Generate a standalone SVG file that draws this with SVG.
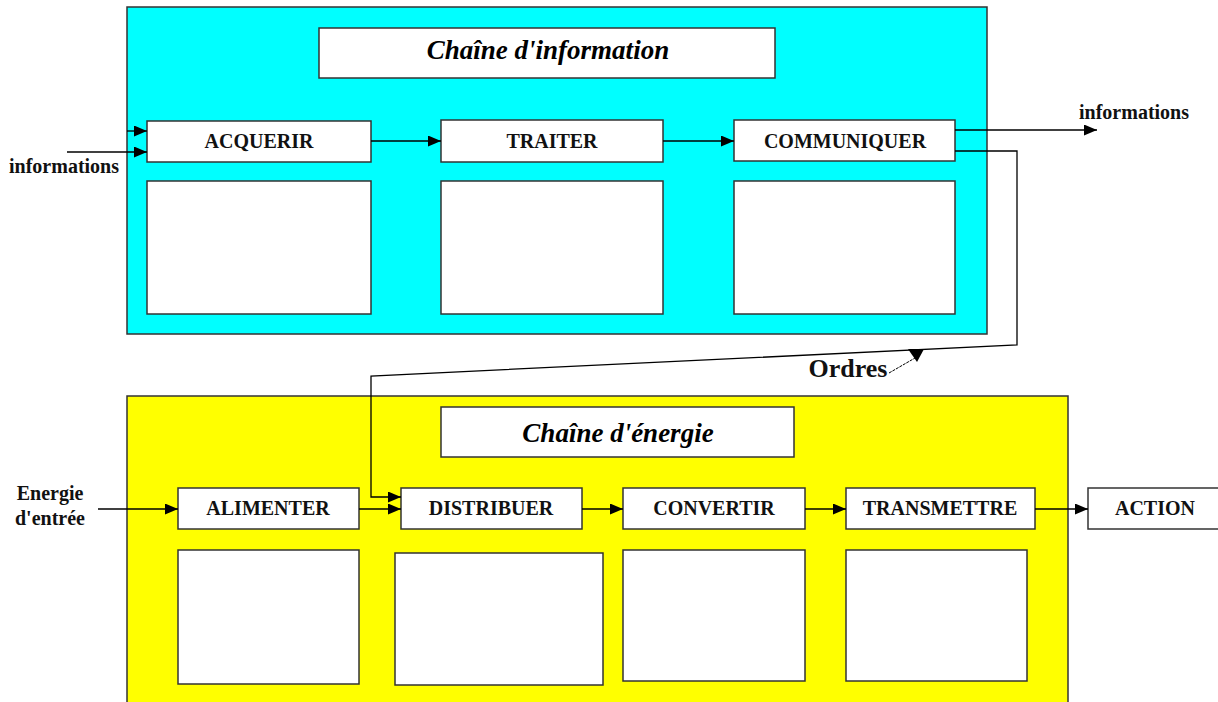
<svg xmlns="http://www.w3.org/2000/svg" width="1218" height="702" viewBox="0 0 1218 702">
<style>
.chain{stroke:#333;stroke-width:1.5}
.box{fill:#fff;stroke:#333;stroke-width:1.5}
.lbl{font-family:"Liberation Serif","Times New Roman",serif;font-weight:bold;font-size:20px;fill:#111;text-anchor:middle}
.ttl{font-family:"Liberation Serif","Times New Roman",serif;font-weight:bold;font-style:italic;font-size:27px;fill:#000;text-anchor:middle}
.ln{fill:none;stroke:#000;stroke-width:1.3}
</style>
<defs>
<marker id="ah" markerWidth="13" markerHeight="11" refX="13" refY="5.5" orient="auto" markerUnits="userSpaceOnUse">
<path d="M0,0 L13,5.5 L0,11 Z" fill="#000"/>
</marker>
</defs>
<rect width="1218" height="702" fill="#fff"/>
<g id="chaine-information">
<rect class="chain" x="127" y="7" width="860" height="327" fill="#00ffff"/>
<rect class="box" x="319" y="28" width="456" height="50"/>
<text class="ttl" x="548" y="59">Chaîne d'information</text>
</g>
<g id="chaine-energie">
<rect class="chain" x="127" y="396" width="941" height="320" fill="#ffff00"/>
<rect class="box" x="441" y="407" width="353" height="50"/>
<text class="ttl" x="618" y="442">Chaîne d'énergie</text>
</g>
<g id="acquerir"><rect class="box" x="147" y="121" width="224" height="41"/><text class="lbl" x="259" y="148">ACQUERIR</text></g>
<g id="acquerir-zone"><rect class="box" x="147" y="181" width="224" height="133"/></g>
<g id="traiter"><rect class="box" x="441" y="120" width="222" height="42"/><text class="lbl" x="552" y="148">TRAITER</text></g>
<g id="traiter-zone"><rect class="box" x="441" y="181" width="222" height="133"/></g>
<g id="communiquer"><rect class="box" x="734" y="120" width="221" height="41"/><text class="lbl" x="845" y="148">COMMUNIQUER</text></g>
<g id="communiquer-zone"><rect class="box" x="734" y="181" width="221" height="133"/></g>
<g id="alimenter"><rect class="box" x="178" y="488" width="181" height="41"/><text class="lbl" x="268" y="515">ALIMENTER</text></g>
<g id="alimenter-zone"><rect class="box" x="178" y="550" width="181" height="134"/></g>
<g id="distribuer"><rect class="box" x="401" y="488" width="181" height="41"/><text class="lbl" x="491" y="515">DISTRIBUER</text></g>
<g id="distribuer-zone"><rect class="box" x="395" y="553" width="208" height="132"/></g>
<g id="convertir"><rect class="box" x="623" y="488" width="182" height="41"/><text class="lbl" x="714" y="515">CONVERTIR</text></g>
<g id="convertir-zone"><rect class="box" x="623" y="550" width="182" height="131"/></g>
<g id="transmettre"><rect class="box" x="846" y="488" width="189" height="41"/><text class="lbl" x="940" y="515">TRANSMETTRE</text></g>
<g id="transmettre-zone"><rect class="box" x="846" y="550" width="181" height="131"/></g>
<g id="action"><rect class="box" x="1088" y="488" width="140" height="41"/><text class="lbl" x="1155" y="515">ACTION</text></g>
<g id="connectors">
<line class="ln" x1="127" y1="131" x2="147" y2="131" marker-end="url(#ah)"/>
<line class="ln" x1="67" y1="152" x2="147" y2="152" marker-end="url(#ah)"/>
<line class="ln" x1="371" y1="141" x2="441" y2="141" marker-end="url(#ah)"/>
<line class="ln" x1="663" y1="141" x2="734" y2="141" marker-end="url(#ah)"/>
<line class="ln" x1="955" y1="130" x2="1097" y2="130" marker-end="url(#ah)"/>
<polyline class="ln" points="955,151 1017,151 1017,345 371,376 371,497 401,497" marker-end="url(#ah)"/>
<path d="M908,349 L924,349 L917,362 Z" fill="#000"/>
<line x1="889" y1="373" x2="915" y2="358" stroke="#000" stroke-width="1" stroke-dasharray="3,1"/>
<line class="ln" x1="98" y1="509" x2="178" y2="509" marker-end="url(#ah)"/>
<line class="ln" x1="359" y1="509" x2="401" y2="509" marker-end="url(#ah)"/>
<line class="ln" x1="582" y1="509" x2="623" y2="509" marker-end="url(#ah)"/>
<line class="ln" x1="805" y1="509" x2="846" y2="509" marker-end="url(#ah)"/>
<line class="ln" x1="1035" y1="509" x2="1088" y2="509" marker-end="url(#ah)"/>
</g>
<g id="labels">
<text class="lbl" x="64" y="173">informations</text>
<text class="lbl" x="1134" y="119">informations</text>
<text class="lbl" x="848" y="377" style="font-size:26px">Ordres</text>
<text class="lbl" x="50" y="500">Energie</text>
<text class="lbl" x="50" y="525">d'entrée</text>
</g>
</svg>
